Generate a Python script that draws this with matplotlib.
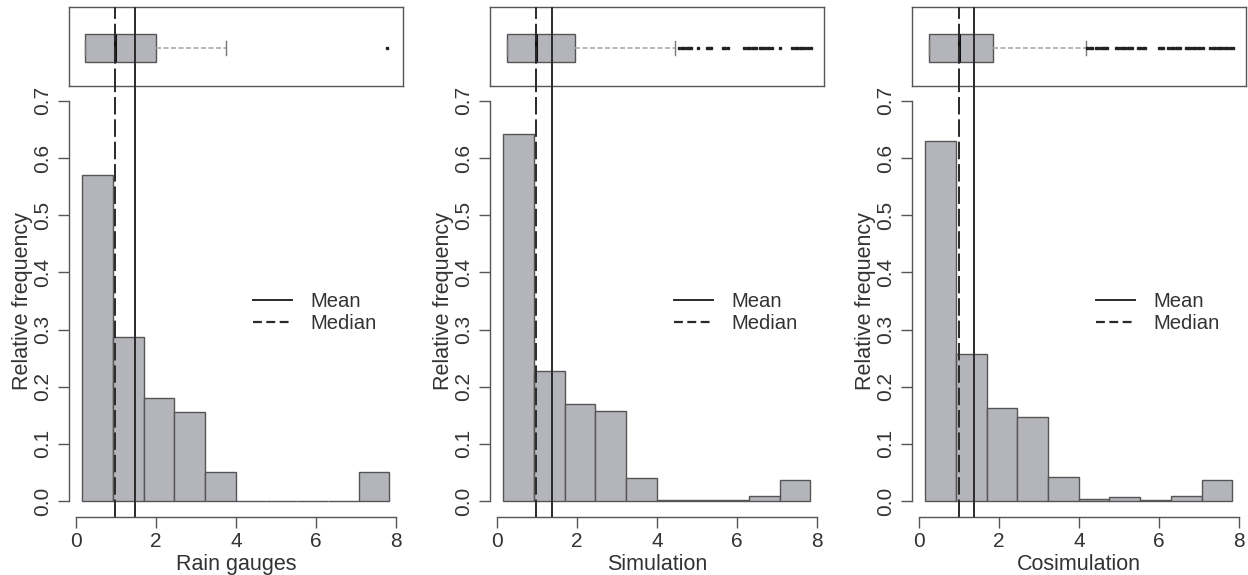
import matplotlib
matplotlib.use("Agg")
import matplotlib.pyplot as plt
from matplotlib.lines import Line2D
import numpy as np

plt.rcParams['font.family'] = ['Liberation Sans', 'DejaVu Sans']

# ---- data ----
panel_names = ["Rain gauges", "Simulation", "Cosimulation"]

# 10 equal bins from ~0.15 to ~7.84
bin_edges = [0.15, 0.92, 1.69, 2.46, 3.22, 3.99, 4.76, 5.53, 6.30, 7.07, 7.84]

density_rain = [0.570, 0.287, 0.181, 0.155, 0.051, 0.0, 0.0, 0.0, 0.0, 0.051]
density_sim = [0.642, 0.228, 0.170, 0.157, 0.040, 0.002, 0.002, 0.002, 0.008, 0.037]
density_cosim = [0.629, 0.257, 0.163, 0.147, 0.042, 0.003, 0.0065, 0.002, 0.008, 0.036]

mean_vals = [1.46, 1.37, 1.37]
median_vals = [0.98, 0.97, 0.99]

# boxplot summary: (q1, median, q3, lower whisker, upper whisker)
box_rain = (0.23, 0.98, 2.00, 0.23, 3.76)
box_sim = (0.24, 0.97, 1.96, 0.24, 4.44)
box_cosim = (0.24, 0.99, 1.84, 0.24, 4.17)

outliers_rain = [7.77]
outliers_sim = [4.56, 4.62, 4.68, 4.74, 4.80, 4.86, 5.03, 5.24, 5.30, 5.36,
                5.64, 5.70, 5.78, 6.19, 6.25, 6.31, 6.37, 6.43, 6.49, 6.57,
                6.63, 6.69, 6.75, 6.81, 6.87, 7.08, 7.39, 7.45, 7.51, 7.57,
                7.63, 7.70, 7.78, 7.85]
outliers_cosim = [4.21, 4.27, 4.32, 4.42, 4.48, 4.54, 4.60, 4.66, 4.71,
                  4.92, 4.98, 5.04, 5.10, 5.16, 5.22, 5.28, 5.33, 5.47, 5.53,
                  5.60, 5.66, 5.99, 6.05, 6.11, 6.24, 6.30, 6.36, 6.42, 6.48,
                  6.53, 6.67, 6.73, 6.79, 6.85, 6.91, 6.97, 7.04, 7.11, 7.29,
                  7.35, 7.41, 7.47, 7.53, 7.59, 7.65, 7.71, 7.78, 7.86]

densities = [density_rain, density_sim, density_cosim]
boxes = [box_rain, box_sim, box_cosim]
outliers = [outliers_rain, outliers_sim, outliers_cosim]

bar_face = '#b4b5ba'
edge_col = '#555555'
txt_col = '#333333'
line_col = '#2a2a2a'

fig = plt.figure(figsize=(12.48, 5.75), dpi=100)

lefts = [69 / 1248, 490 / 1248, 912 / 1248]
w = 334 / 1248
xlim = (-0.18, 8.18)

for i in range(3):
    ax_box = fig.add_axes([lefts[i], 1 - 86 / 575, w, 79 / 575])
    ax = fig.add_axes([lefts[i], 1 - 517 / 575, w, 431 / 575])
    ax.patch.set_visible(False)

    # ---- histogram ----
    widths = np.diff(bin_edges)
    ax.bar(bin_edges[:-1], densities[i], width=widths, align='edge',
           color=bar_face, edgecolor=edge_col, linewidth=1.0, zorder=2)
    ax.set_xlim(*xlim)
    ax.set_ylim(-0.028, 0.726)
    ax.spines['top'].set_visible(False)
    ax.spines['right'].set_visible(False)
    ax.spines['left'].set_bounds(0, 0.7)
    ax.spines['bottom'].set_bounds(0, 8)
    for s in ('left', 'bottom'):
        ax.spines[s].set_color(edge_col)
        ax.spines[s].set_linewidth(1.0)
    ax.set_xticks([0, 2, 4, 6, 8])
    ax.set_yticks(np.arange(0, 0.71, 0.1))
    ax.set_yticklabels([f"{v:.1f}" for v in np.arange(0, 0.71, 0.1)],
                       rotation=90, va='center')
    ax.tick_params(axis='both', colors=edge_col, labelcolor=txt_col,
                   labelsize=15, length=8, width=1.0)
    ax.tick_params(axis='y', pad=4)
    ax.tick_params(axis='x', pad=3)
    ax.set_xlabel(panel_names[i], fontsize=15.5, color=txt_col, labelpad=2)
    ax.set_ylabel("Relative frequency", fontsize=15.5, color=txt_col,
                  labelpad=0)

    ax.axvline(mean_vals[i], color=line_col, lw=1.4, zorder=3)
    ax.axvline(median_vals[i], color=line_col, lw=1.4,
               linestyle=(0, (9, 2.5)), zorder=3)

    handles = [Line2D([], [], color=line_col, lw=1.4),
               Line2D([], [], color=line_col, lw=1.6, linestyle=(0, (4, 2)))]
    ax.legend(handles, ["Mean", "Median"], loc='center left',
              bbox_to_anchor=(0.552, 0.475), frameon=False, fontsize=14.6,
              handlelength=1.9, handletextpad=0.9, labelspacing=0.15,
              borderpad=0, borderaxespad=0, labelcolor=txt_col)

    # ---- boxplot on top ----
    q1, med, q3, wlo, whi = boxes[i]
    stats = [dict(q1=q1, med=med, q3=q3, whislo=wlo, whishi=whi,
                  fliers=outliers[i])]
    ax_box.bxp(stats, positions=[1], widths=0.36, vert=False,
               patch_artist=True, showcaps=True,
               boxprops=dict(facecolor=bar_face, edgecolor=edge_col, lw=1.0),
               medianprops=dict(color='#111111', lw=2.2),
               whiskerprops=dict(color='#aaaaaa', lw=1.2, linestyle=(0, (3, 1.5))),
               capprops=dict(color='#777777', lw=1.0),
               flierprops=dict(marker='s', markersize=1.6, markerfacecolor='#222222',
                               markeredgecolor='#222222', linestyle='none'),
               capwidths=0.18)
    ax_box.set_xlim(*xlim)
    ax_box.set_ylim(0.52, 1.52)
    ax_box.set_xticks([])
    ax_box.set_yticks([])
    for s in ax_box.spines.values():
        s.set_color(edge_col)
        s.set_linewidth(1.0)
    ax_box.axvline(mean_vals[i], color=line_col, lw=1.4, zorder=3)
    ax_box.axvline(median_vals[i], color=line_col, lw=1.4,
                   linestyle=(0, (9, 2.5)), zorder=3)

fig.savefig("out.png", dpi=100)
